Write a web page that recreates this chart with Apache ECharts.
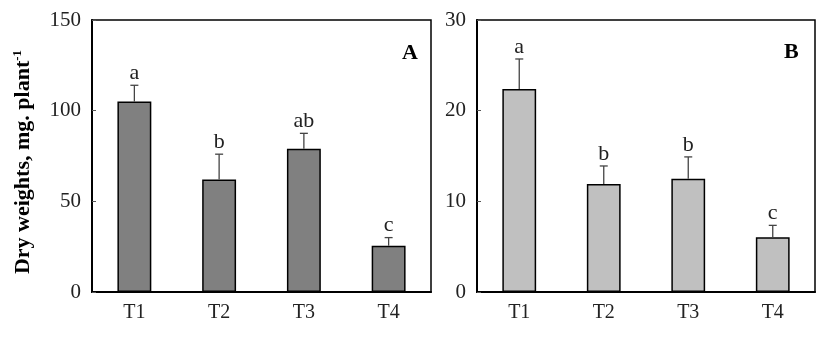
<!DOCTYPE html>
<html>
<head>
<meta charset="utf-8">
<script src="https://cdn.jsdelivr.net/npm/echarts@6/dist/echarts.min.js"></script>
<style>
  html, body { margin: 0; padding: 0; background: #fff; }
  #main { width: 817px; height: 341px; }
</style>
</head>
<body>
<div id="main"></div>
<script>
// data
const treatments = ['T1', 'T2', 'T3', 'T4'];
const weightsA = [105, 62, 79, 25.5];
const errorsA = [9, 14, 8.5, 4.5];
const lettersA = ['a', 'b', 'ab', 'c'];
const weightsB = [22.4, 11.9, 12.5, 6.05];
const errorsB = [3.3, 2, 2.4, 1.3];
const lettersB = ['a', 'b', 'b', 'c'];

const FONT = '"Liberation Serif", "Times New Roman", serif';

const chart = echarts.init(document.getElementById('main'), null, { renderer: 'canvas' });

function errData(vals, errs) {
  return vals.map((v, i) => [i, v, errs[i]]);
}

// error bar (upper only) + significance letter
function makeRender(letters) {
  return function (params, api) {
    const i = api.value(0);
    const v = api.value(1);
    const e = api.value(2);
    const base = api.coord([i, v]);
    const top = api.coord([i, v + e]);
    return {
      type: 'group',
      children: [
        { type: 'line', shape: { x1: base[0], y1: base[1], x2: top[0], y2: top[1] },
          style: { stroke: '#444', lineWidth: 1.3 } },
        { type: 'line', shape: { x1: top[0] - 4, y1: top[1], x2: top[0] + 4, y2: top[1] },
          style: { stroke: '#444', lineWidth: 1.3 } },
        { type: 'text', x: top[0], y: top[1] - 1,
          style: { text: letters[params.dataIndex], fill: '#222', font: '22px ' + FONT, align: 'center', verticalAlign: 'bottom' } }
      ]
    };
  };
}

function yAxisFor(idx, max, interval, withName) {
  const ax = {
    type: 'value', gridIndex: idx, min: 0, max: max, interval: interval,
    axisLine: { show: true, lineStyle: { color: '#000', width: 2 } },
    axisTick: { show: true, inside: true, length: 4, lineStyle: { color: '#555' } },
    axisLabel: { color: '#222', fontFamily: FONT, fontSize: 21, margin: 11 },
    splitLine: { show: false }
  };
  if (withName) {
    ax.name = '{t|Dry weights, mg. plant}{s|-1}';
    ax.nameLocation = 'middle';
    ax.nameGap = 57;
    ax.nameRotate = 90;
    ax.nameTextStyle = {
      padding: [0, 12, 0, 0],
      rich: {
        t: { fontFamily: FONT, fontWeight: 'bold', fontSize: 22, color: '#000', lineHeight: 24 },
        s: { fontFamily: FONT, fontWeight: 'bold', fontSize: 13, color: '#000', verticalAlign: 'top', lineHeight: 24, padding: [0, 0, 8, 0] }
      }
    };
  }
  return ax;
}

function xAxisFor(idx) {
  return {
    type: 'category', gridIndex: idx, data: treatments,
    axisLine: { show: true, lineStyle: { color: '#000', width: 2 } },
    axisTick: { show: false },
    axisLabel: { color: '#222', fontFamily: FONT, fontSize: 20, margin: 11 }
  };
}

const option = {
  backgroundColor: '#fff',
  animation: false,
  grid: [
    { left: 92, top: 20, width: 339, height: 272, show: true, borderColor: '#000', borderWidth: 1.5 },
    { left: 477, top: 20, width: 338, height: 272, show: true, borderColor: '#000', borderWidth: 1.5 }
  ],
  title: [
    { text: 'A', left: 397, top: 37, textStyle: { fontFamily: FONT, fontWeight: 'bold', fontSize: 22, color: '#000' } },
    { text: 'B', left: 779, top: 36, textStyle: { fontFamily: FONT, fontWeight: 'bold', fontSize: 22, color: '#000' } }
  ],
  xAxis: [xAxisFor(0), xAxisFor(1)],
  yAxis: [yAxisFor(0, 150, 50, true), yAxisFor(1, 30, 10, false)],
  series: [
    {
      type: 'bar', xAxisIndex: 0, yAxisIndex: 0, data: weightsA, barWidth: '40%',
      itemStyle: { color: '#808080', borderColor: '#000', borderWidth: 1.5 }
    },
    {
      type: 'custom', xAxisIndex: 0, yAxisIndex: 0, data: errData(weightsA, errorsA),
      renderItem: makeRender(lettersA), z: 3
    },
    {
      type: 'bar', xAxisIndex: 1, yAxisIndex: 1, data: weightsB, barWidth: '40%',
      itemStyle: { color: '#c0c0c0', borderColor: '#000', borderWidth: 1.5 }
    },
    {
      type: 'custom', xAxisIndex: 1, yAxisIndex: 1, data: errData(weightsB, errorsB),
      renderItem: makeRender(lettersB), z: 3
    }
  ]
};

chart.setOption(option);
</script>
</body>
</html>
